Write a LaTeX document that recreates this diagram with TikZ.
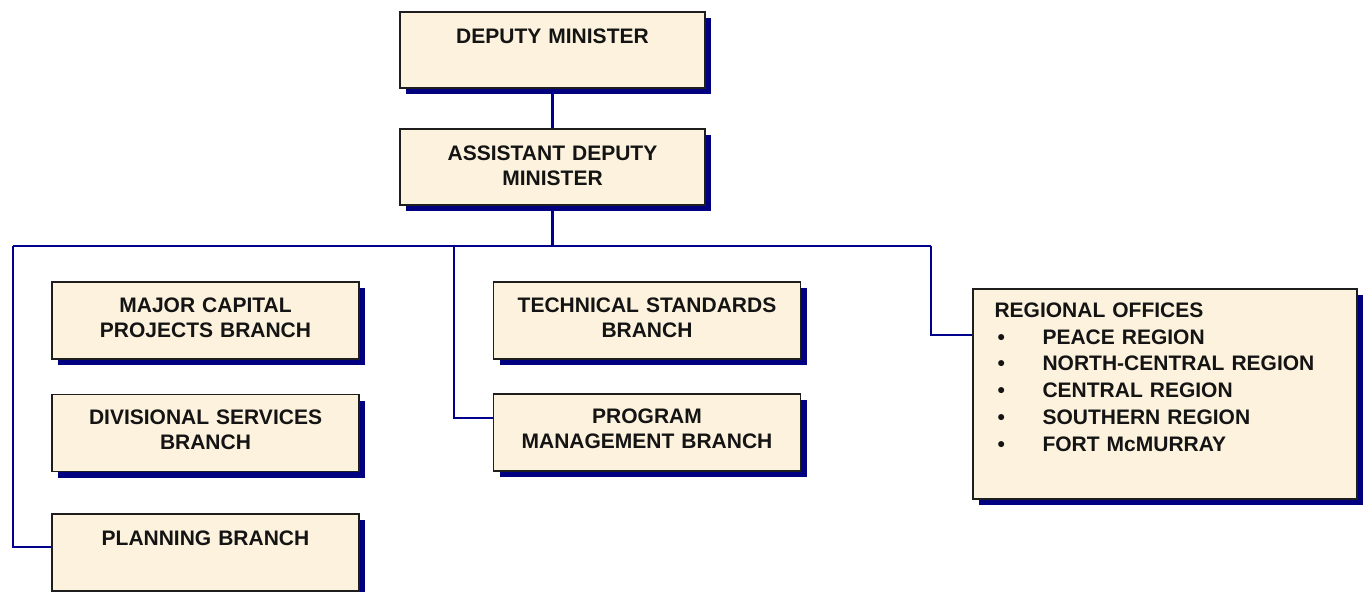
\documentclass[tikz,border=0pt]{standalone}
\usepackage{fontspec}
\setmainfont{Liberation Sans}
\usetikzlibrary{shadows,calc}

\tikzset{
  orgbox/.style={draw={rgb, 255:red, 30; green, 30; blue, 30 }, line width=1.1pt,
    fill={rgb, 255:red, 252; green, 242; blue, 221 },
    minimum width=230.25pt, minimum height=57.75pt, inner sep=0pt,
    drop shadow={shadow xshift=4.5pt, shadow yshift=-4.5pt, opacity=1,
      fill={rgb, 255:red, 0; green, 0; blue, 128 }}},
  boxtext/.style={anchor=base, text width=225pt, align=center, inner sep=0pt,
    text={rgb, 255:red, 20; green, 20; blue, 20 },
    font=\fontsize{15.75}{18.75}\selectfont\bfseries},
  link/.style={draw={rgb, 255:red, 0; green, 0; blue, 140 }, line width=1.6pt}
}

\begin{document}
\begin{tikzpicture}[x=0.75pt,y=0.75pt,yscale=-1,xscale=1]
\useasboundingbox (0,0) rectangle (1367,592);

%Boxes: top
\node[orgbox, minimum width=228.75pt, minimum height=57pt] (dm) at (552.5,50) {};
\node[orgbox, minimum width=228.75pt, minimum height=57pt] (adm) at (552.5,167) {};
%Boxes: left column
\node[orgbox] (mcp) at (205.5,320.5) {};
\node[orgbox] (div) at (205.5,433) {};
\node[orgbox] (plan) at (205.5,552.5) {};
%Boxes: middle column
\node[orgbox] (tsb) at (647,320.5) {};
\node[orgbox] (pmb) at (647,432.5) {};
%Box: regional offices
\node[orgbox, minimum width=288pt, minimum height=157.5pt] (reg) at (1165,394) {};

%Texts
\node[boxtext] (dmtext) at ($(dm.north)+(0,32)$) {DEPUTY MINISTER};
\node[boxtext] (admtext) at ($(adm.north)+(0,32)$) {ASSISTANT DEPUTY\\MINISTER};
\node[boxtext] (mcptext) at ($(mcp.north)+(0,31)$) {MAJOR CAPITAL\\PROJECTS BRANCH};
\node[boxtext] (divtext) at ($(div.north)+(0,31)$) {DIVISIONAL SERVICES\\BRANCH};
\node[boxtext] (plantext) at ($(plan.north)+(0,32)$) {PLANNING BRANCH};
\node[boxtext] (tsbtext) at ($(tsb.north)+(0,31)$) {TECHNICAL STANDARDS\\BRANCH};
\node[boxtext] (pmbtext) at ($(pmb.north)+(0,30)$) {PROGRAM\\MANAGEMENT BRANCH};
\node[boxtext, anchor=base west, text width=260pt, align=left, font=\fontsize{15.75}{20.1}\selectfont\bfseries]
  (regtext) at ($(reg.north west)+(22,29)$)
  {REGIONAL OFFICES\\
   \hspace*{2.25pt}\makebox[33.75pt][l]{\textbullet}PEACE REGION\\
   \hspace*{2.25pt}\makebox[33.75pt][l]{\textbullet}NORTH-CENTRAL REGION\\
   \hspace*{2.25pt}\makebox[33.75pt][l]{\textbullet}CENTRAL REGION\\
   \hspace*{2.25pt}\makebox[33.75pt][l]{\textbullet}SOUTHERN REGION\\
   \hspace*{2.25pt}\makebox[33.75pt][l]{\textbullet}FORT McMURRAY};

%Connectors
\coordinate (busL) at (13,246);
\coordinate (busM) at (454,246);
\coordinate (busR) at (931,246);
\draw[link] (dm.south) -- (adm.north);
\draw[link] (adm.south) -- (adm.south |- busL);
\draw[link] (busL) -- (busR);
\draw[link] (busL) |- ($(plan.north west)+(0,34)$);
\draw[link] ($(mcp.north west)+(0,38)$) -- ($(mcp.north west)+(0,38)$ -| busL);
\draw[link] ($(div.north west)+(0,28)$) -- ($(div.north west)+(0,28)$ -| busL);
\draw[link] (busM) |- ($(pmb.north west)+(0,25)$);
\draw[link] ($(tsb.north west)+(0,38)$) -- ($(tsb.north west)+(0,38)$ -| busM);
\draw[link] (busR) |- ($(reg.north west)+(0,47)$);
\end{tikzpicture}
\end{document}
